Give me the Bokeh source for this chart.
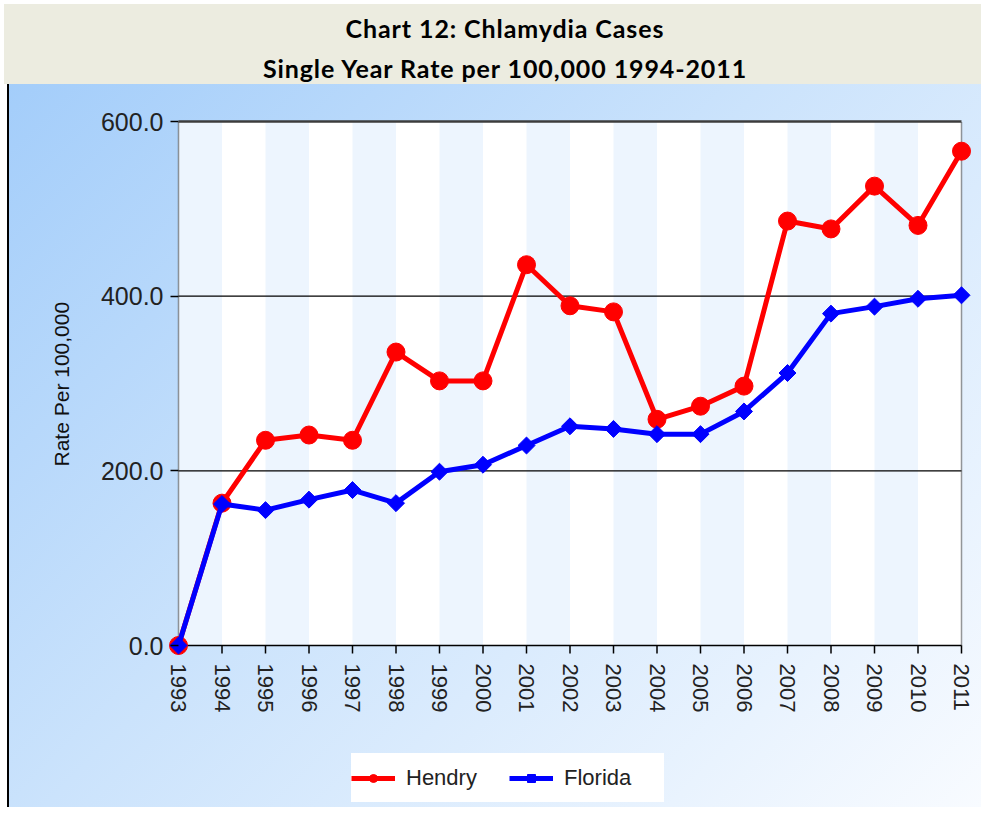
import numpy as np
from bokeh.plotting import figure
from bokeh.models import (Range1d, FixedTicker, PrintfTickFormatter, Legend,
                          LegendItem, Div, Title)
from bokeh.core.properties import value
from bokeh.layouts import column
from bokeh.embed import file_html
from bokeh.resources import INLINE

# ---------------- data ----------------
years = list(range(1993, 2012))
year_labels = [str(y) for y in years]
hendry = [0, 163, 235, 241, 235, 336, 303, 303, 436, 389, 382, 259, 274, 297,
          486, 477, 526, 481, 566]
florida = [0, 162, 155, 167, 178, 163, 199, 207, 229, 251, 248, 242, 242, 268,
           312, 380, 388, 397, 401]
series_names = ["Hendry", "Florida"]
y_ticks = [0, 200, 400, 600]
grid_levels = [200, 400]
title_line1 = "Chart 12: Chlamydia Cases"
title_line2 = "Single Year Rate per 100,000 1994-2011"
y_label = "Rate Per 100,000"

# ---------------- layout constants ----------------
x0, x1 = years[0], years[-1]
y0, y1 = y_ticks[0], y_ticks[-1]
W = 981
TITLE_H = 84
FIG_H = 723
PLOT_W_PX = 783.0      # 1993 -> 2011
PLOT_H_PX = 524.0      # 0 -> 600
PAD_PX = 12.0          # room so edge markers are not clipped
PAD_BOT_PX = 160.0     # frame reaches down over labels and legend
XPAD = PAD_PX * (x1 - x0) / PLOT_W_PX
YPAD = PAD_PX * (y1 - y0) / PLOT_H_PX
YPAD_BOT = PAD_BOT_PX * (y1 - y0) / PLOT_H_PX
TICK_LEN = 8.0 * (y1 - y0) / PLOT_H_PX
TICK_FONT = "Liberation Sans"

p = figure(width=W, height=FIG_H, margin=0,
           x_range=Range1d(x0 - XPAD, x1 + XPAD),
           y_range=Range1d(y0 - YPAD_BOT, y1 + YPAD),
           x_axis_location=None,
           output_backend="svg", toolbar_location=None,
           min_border_left=166, min_border_right=8,
           min_border_top=25, min_border_bottom=2,
           background_fill_color=None, border_fill_color=None,
           outline_line_color=None)
p.styles = {
    "background-image": (
        "linear-gradient(to right, #ffffff 0px, #ffffff 7px, #000000 7px, "
        "#000000 9px, rgba(255,255,255,0) 9px), "
        "linear-gradient(135deg, #A3CDFA 0%, #CBE3FC 45%, #F8FBFF 100%)"
    ),
}
p.grid.visible = False

# plot area background and alternating stripes
p.quad(left=[x0], right=[x1], bottom=[y0], top=[y1],
       fill_color="white", line_color=None)
p.quad(left=years[0:-1:2], right=years[1::2], bottom=y0, top=y1,
       fill_color="#EDF5FE", line_color=None)

# grid lines / frame lines
p.segment(x0=x0, x1=x1, y0=grid_levels, y1=grid_levels,
          line_color="black", line_width=1.3)
p.segment(x0=[x0], x1=[x1], y0=[y1], y1=[y1],
          line_color="#3c3c3c", line_width=2.5)
p.segment(x0=[x0, x1], x1=[x0, x1], y0=y0, y1=y1,
          line_color="#333333", line_width=1.5, line_dash="1 1")
p.segment(x0=[x0], x1=[x1], y0=[y0], y1=[y0],
          line_color="black", line_width=1.6)

# year ticks and rotated year labels under the zero line
p.segment(x0=years, x1=years, y0=[y0] * len(years),
          y1=[y0 - TICK_LEN] * len(years),
          line_color="black", line_width=1.5)
p.text(x=years, y=[y0] * len(years), text=year_labels, angle=-np.pi / 2,
       y_offset=18, text_align="left", text_baseline="middle",
       text_font=value(TICK_FONT), text_font_size="22px",
       text_color="#222222")

# series
hl = p.line(years, hendry, line_color="#FF0000", line_width=5)
hm = p.scatter(years, hendry, marker="circle", size=18,
               fill_color="#FF0000", line_color="#FF0000")
fl = p.line(years, florida, line_color="#0000FF", line_width=5)
fm = p.scatter(years, florida, marker="square", angle=np.pi / 4, size=12,
               fill_color="#0000FF", line_color="#0000FF")

# y axis (at frame left; ticks moved right to the 1993 line)
ya = p.yaxis[0]
ya.ticker = FixedTicker(ticks=y_ticks)
ya.formatter = PrintfTickFormatter(format="%.1f")
ya.axis_line_color = None
ya.major_tick_in = 12
ya.major_tick_out = -4
ya.minor_tick_out = 0
ya.minor_tick_in = 0
ya.major_tick_line_color = "black"
ya.major_tick_line_width = 1.5
ya.major_label_standoff = 3
ya.major_label_text_font = TICK_FONT
ya.major_label_text_font_size = "25px"
ya.major_label_text_color = "#222222"

# y axis title, centred on the 0..600 span (not on the extended frame)
p.add_layout(Title(text=y_label, align="left", offset=339, standoff=50,
                   text_font=TICK_FONT, text_font_size="21px",
                   text_font_style="normal", text_color="#111111"), "left")

# legend (inside the extended frame, below the year labels)
legend = Legend(items=[LegendItem(label=series_names[0], renderers=[hl, hm]),
                       LegendItem(label=series_names[1], renderers=[fl, fm])],
                orientation="horizontal", location=(185, 3),
                background_fill_color="white", background_fill_alpha=1.0,
                border_line_color=None, padding=12, spacing=3,
                label_standoff=11, glyph_width=44, glyph_height=20,
                label_width=100, label_height=49,
                margin=0, label_text_font=TICK_FONT,
                label_text_font_size="22px", label_text_color="#222222")
p.add_layout(legend)

title = Div(
    text=(
        f'<div style="width:{W}px;height:{TITLE_H}px;padding:4px 0 0 4px;'
        'box-sizing:border-box;background:#ffffff;">'
        f'<div style="width:{W - 4}px;height:{TITLE_H - 4}px;background:#ECECE0;'
        'text-align:center;font-family:Lato;font-weight:bold;'
        'font-size:25px;letter-spacing:0.9px;line-height:40px;'
        'padding-top:4px;padding-left:25px;box-sizing:border-box;color:#000;">'
        f'<div>{title_line1}</div><div>{title_line2}</div></div></div>'
    ),
    width=W, height=TITLE_H, margin=0,
)

layout = column(title, p, spacing=0, margin=0)
open("out.html", "w").write(file_html(layout, INLINE))
